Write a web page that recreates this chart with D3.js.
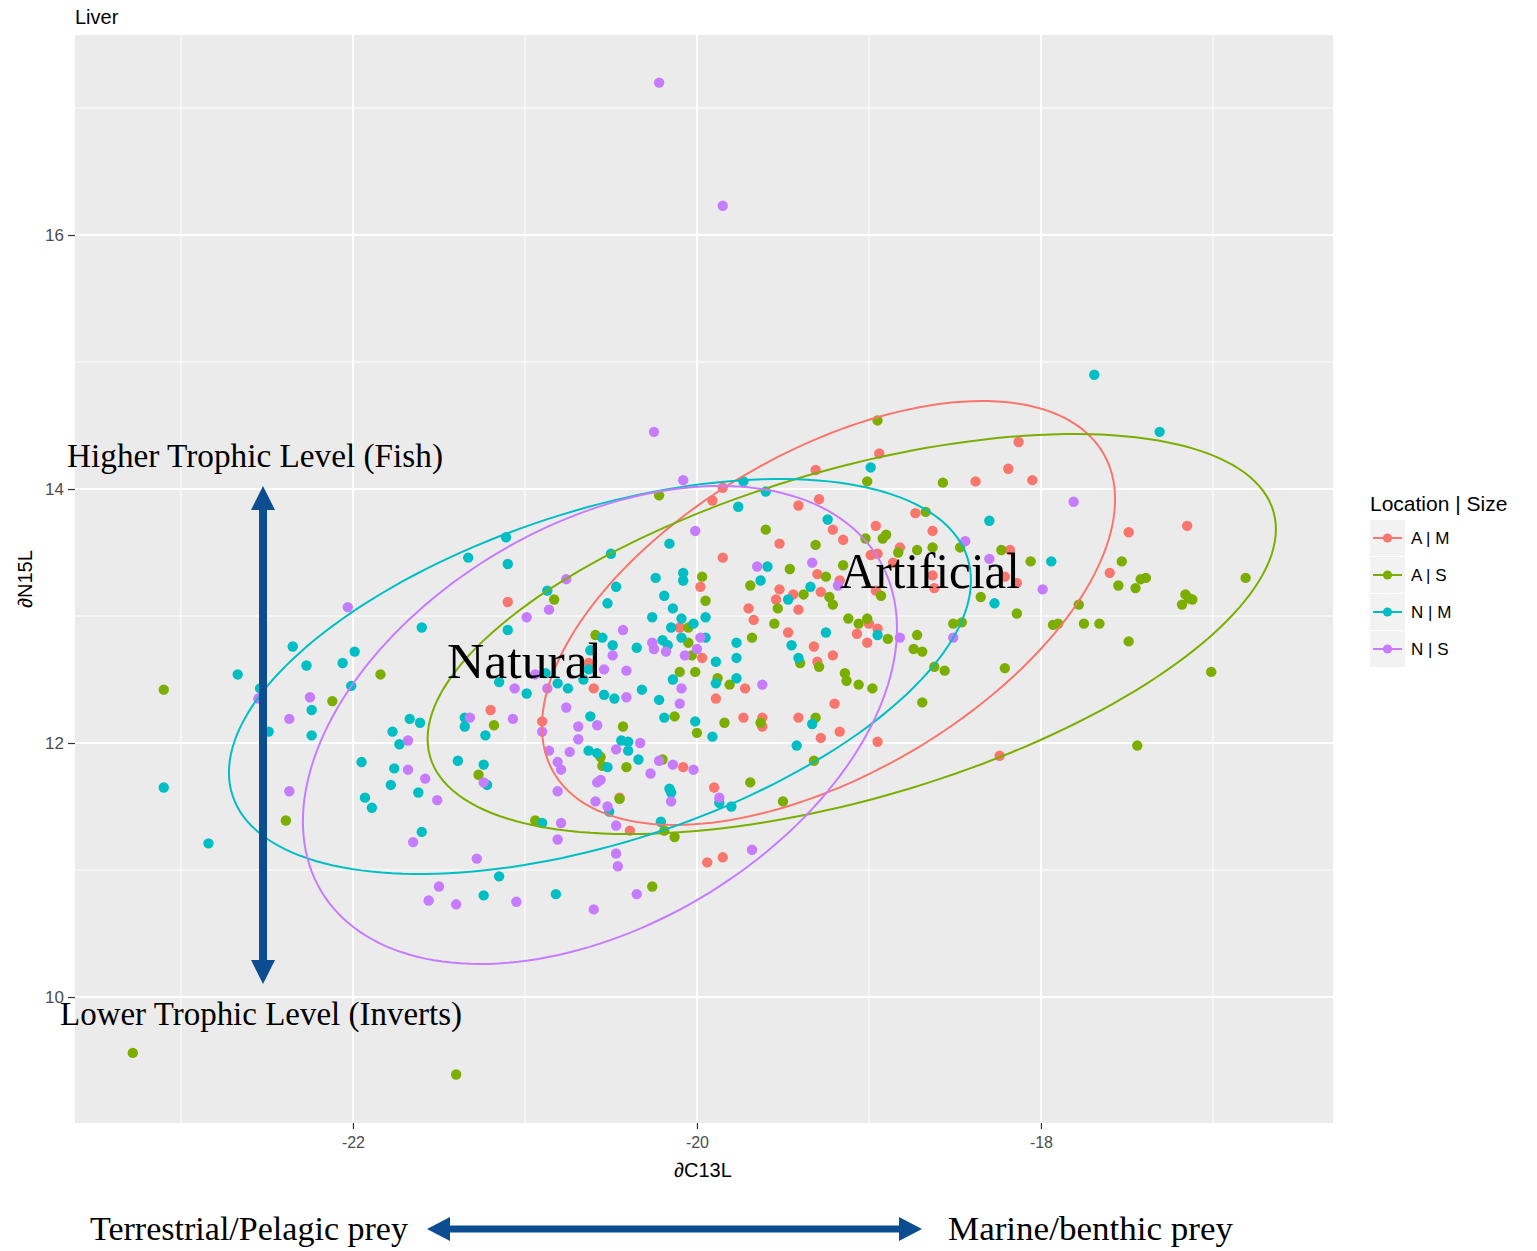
<!DOCTYPE html>
<html><head><meta charset="utf-8">
<script src="https://cdn.jsdelivr.net/npm/d3@7"></script>
<style>body{margin:0;background:#fff} svg{display:block}</style>
</head><body>
<svg id="chart" width="1537" height="1251"></svg>
<script>
// ---------- DATA ----------
const groupLabels = ["A | M", "A | S", "N | M", "N | S"];
const groupColors = ["#F8766D", "#7CAE00", "#00BFC4", "#C77CFF"];

const amX = [-18.94,-21.10,-21.20,-19.85,-19.91,-19.52,-19.85,-19.98,-19.52,-19.44,-19.54,-19.41,-19.28,-19.70,-19.67,-19.47,-19.30,-19.41,-19.29,-19.21,-19.15,-18.99,-19.31,-18.96,-19.07,-20.10,-18.38,-18.05,-18.73,-18.63,-18.82,-18.95,-18.18,-18.86,-19.17,-18.96,-18.63,-18.62,-18.21,-18.14,-19.00,-18.95,-19.01,-19.32,-19.21,-19.30,-18.13,-18.19,-17.15,-17.49,-17.60,-19.97,-20.63,-19.72,-19.89,-20.90,-19.73,-19.62,-19.62,-19.41,-19.20,-19.28,-19.17,-18.95,-20.60,-20.08,-19.90,-20.45,-20.39,-19.94,-19.85,-18.24];
const amY = [14.28,13.11,12.26,14.01,13.91,13.57,13.46,13.23,13.21,13.17,13.13,13.05,13.19,13.06,12.97,12.87,13.33,13.87,13.92,13.68,13.60,13.48,14.15,13.71,12.86,12.91,14.06,14.07,13.81,13.67,13.54,13.49,13.52,13.42,13.28,13.20,13.32,13.22,13.31,13.26,12.94,12.90,12.79,12.76,12.69,12.64,14.37,14.16,13.71,13.66,13.34,12.67,12.63,12.43,12.35,12.17,12.20,12.20,12.13,12.20,12.31,12.04,12.09,12.01,12.43,11.81,11.65,11.57,11.31,11.06,11.10,11.90];

const asX = [-18.95,-16.81,-17.01,-17.44,-23.28,-21.40,-23.10,-21.84,-22.12,-22.39,-21.18,-21.27,-20.26,-20.59,-20.05,-20.03,-19.68,-19.40,-19.29,-19.14,-19.13,-19.06,-18.98,-20.10,-20.01,-19.88,-19.81,-20.43,-20.13,-20.00,-19.84,-19.63,-19.31,-19.32,-19.50,-20.56,-20.55,-20.41,-20.20,-19.69,-20.45,-20.94,-20.19,-20.13,-20.22,-19.60,-20.83,-19.97,-19.95,-19.69,-19.46,-19.53,-19.38,-19.23,-19.21,-19.55,-19.25,-19.31,-19.02,-19.15,-19.01,-19.12,-19.06,-19.01,-20.05,-18.57,-18.67,-18.92,-18.90,-18.83,-18.72,-18.63,-18.47,-18.23,-18.06,-18.93,-18.35,-18.14,-18.89,-18.51,-18.46,-18.72,-18.74,-18.69,-18.62,-18.56,-18.21,-17.53,-17.55,-17.42,-17.39,-17.45,-17.16,-17.12,-17.18,-17.14,-17.78,-17.93,-17.90,-17.75,-17.66,-17.49,-18.69];
const asY = [14.54,13.30,12.56,11.98,9.56,9.39,12.42,12.54,12.33,11.39,12.14,11.75,10.87,12.85,12.79,12.69,12.83,12.63,12.60,12.55,12.49,12.46,12.43,12.56,12.56,12.51,12.46,12.13,12.21,12.08,12.16,12.16,12.20,11.86,11.54,11.89,11.82,11.81,11.87,11.69,11.56,11.39,11.31,11.26,13.95,13.68,13.13,13.31,13.12,13.24,13.37,13.06,13.17,13.15,13.09,12.94,13.31,13.56,13.61,13.40,14.06,12.98,12.94,12.98,12.91,14.05,13.82,13.61,13.64,13.50,13.52,13.54,13.54,13.52,13.43,13.16,13.15,13.02,12.82,12.94,12.95,12.85,12.74,12.72,12.60,12.57,12.59,13.43,13.24,13.29,13.30,13.22,13.17,13.13,13.09,13.14,13.09,12.93,12.94,12.94,12.94,12.80,12.32];

const nmX = [-17.69,-17.31,-23.10,-22.84,-21.33,-21.11,-21.10,-21.60,-21.10,-22.67,-22.35,-21.99,-22.27,-22.06,-22.01,-22.54,-22.24,-22.49,-22.24,-21.77,-21.67,-21.61,-21.73,-21.35,-21.35,-21.23,-21.15,-21.95,-21.76,-21.78,-21.62,-21.39,-21.24,-21.22,-21.93,-21.89,-21.60,-21.15,-21.24,-20.82,-20.55,-20.49,-20.35,-20.20,-20.17,-20.09,-19.95,-19.77,-19.77,-19.89,-19.45,-19.25,-18.95,-19.41,-20.62,-20.63,-20.66,-20.81,-20.75,-20.88,-20.99,-20.54,-20.48,-20.32,-20.22,-20.14,-19.89,-19.77,-20.62,-20.19,-20.01,-19.91,-19.33,-19.42,-20.44,-20.40,-20.40,-20.63,-20.58,-20.52,-20.34,-20.16,-20.15,-19.87,-19.80,-20.51,-20.90,-20.21,-19.73,-19.60,-19.76,-20.16,-20.50,-20.87,-20.47,-20.52,-20.24,-20.08,-20.08,-20.19,-20.14,-20.26,-20.09,-20.02,-19.95,-19.63,-19.59,-19.47,-19.34,-19.24,-18.99,-20.15,-18.30,-18.27,-17.94];
const nmY = [14.90,14.45,11.65,11.21,13.46,13.62,13.41,12.91,12.89,12.54,12.76,12.72,12.61,12.63,12.45,12.43,12.26,12.09,12.06,12.09,12.19,12.16,11.99,12.20,12.13,12.06,12.48,11.85,11.80,11.67,11.61,11.86,11.83,11.67,11.57,11.49,11.30,10.95,10.80,10.81,12.83,12.77,12.75,12.81,12.77,12.83,12.83,12.79,12.67,12.64,12.77,12.87,12.85,12.67,12.73,12.58,12.50,12.47,12.43,12.55,12.39,12.38,12.35,12.42,12.34,12.50,12.47,12.51,12.21,12.20,12.17,12.05,12.15,11.98,12.02,12.01,11.94,11.94,11.92,11.81,11.87,11.64,11.61,11.53,11.50,11.46,11.37,11.38,14.06,13.98,13.86,13.57,13.49,13.20,13.23,13.10,13.30,13.28,13.34,13.16,13.06,12.99,12.98,12.94,12.99,13.28,13.39,13.13,13.23,13.76,14.17,12.91,13.75,13.10,13.43];

const nsX = [-20.22,-19.85,-20.25,-22.03,-22.55,-22.25,-22.37,-21.32,-21.68,-21.68,-21.58,-21.51,-21.24,-22.37,-21.65,-21.28,-21.50,-21.56,-21.40,-21.05,-20.47,-20.46,-19.68,-20.60,-20.35,-20.43,-20.26,-20.25,-20.18,-19.98,-20.00,-20.07,-20.49,-20.54,-20.41,-20.94,-20.87,-21.06,-20.41,-20.09,-20.10,-19.62,-20.76,-21.07,-20.90,-20.58,-20.69,-20.69,-20.86,-20.74,-20.47,-20.33,-20.22,-20.14,-20.02,-20.27,-20.81,-20.79,-20.58,-20.56,-20.81,-19.87,-20.15,-20.59,-20.52,-20.79,-20.81,-20.47,-20.08,-20.01,-20.76,-20.86,-20.99,-19.65,-19.33,-19.18,-18.44,-18.30,-18.82,-18.51,-17.81,-17.99];
const nsY = [17.20,16.23,14.45,13.07,12.35,12.36,12.19,12.20,12.02,11.79,11.72,11.55,11.69,11.62,11.22,11.09,10.87,10.76,10.73,10.75,11.13,11.03,11.16,10.69,10.81,12.89,12.79,12.74,12.72,12.83,12.74,12.69,12.69,12.58,12.57,12.54,12.43,12.43,12.36,12.43,12.31,12.46,12.28,12.19,12.09,12.14,12.13,12.03,11.94,11.93,11.95,12.00,11.86,11.83,11.79,11.76,11.85,11.79,11.69,11.71,11.62,11.57,11.54,11.54,11.50,11.37,11.24,11.35,14.07,13.67,13.29,13.05,12.99,13.39,13.42,13.24,13.59,13.45,12.83,12.83,13.90,13.21];

// Ellipse descriptions (centre, x/y radius, correlation)
const ellipseCx  = [-19.235, -19.100, -20.564, -20.564];
const ellipseCy  = [13.024, 12.858, 12.524, 12.142];
const ellipseRx  = [1.666, 2.466, 2.157, 1.727];
const ellipseRy  = [1.669, 1.575, 1.555, 1.882];
const ellipseRho = [0.536, 0.524, 0.486, 0.404];

const xMajor = [-22, -20, -18];
const xMinor = [-23, -21, -19, -17];
const yMajor = [10, 12, 14, 16];
const yMinor = [11, 13, 15, 17];
const xDomain = [-23.616, -16.302];
const yDomain = [9.008, 17.575];

// ---------- DRAW ----------
const svg = d3.select("#chart");
const P = {l: 75, r: 1333, t: 35, b: 1123};
const x = d3.scaleLinear().domain(xDomain).range([P.l, P.r]);
const y = d3.scaleLinear().domain(yDomain).range([P.b, P.t]);
const SANS = "'Liberation Sans', Arial, Helvetica, sans-serif";
const SERIF = "'Liberation Serif', 'Times New Roman', serif";

svg.append("rect").attr("width", 1537).attr("height", 1251).attr("fill", "#fff");
svg.append("rect").attr("x", P.l).attr("y", P.t).attr("width", P.r - P.l).attr("height", P.b - P.t).attr("fill", "#EBEBEB");

const grid = svg.append("g");
grid.selectAll(".vmin").data(xMinor).join("line")
  .attr("x1", d => x(d)).attr("x2", d => x(d)).attr("y1", P.t).attr("y2", P.b)
  .attr("stroke", "#fff").attr("stroke-width", 1);
grid.selectAll(".hmin").data(yMinor).join("line")
  .attr("y1", d => y(d)).attr("y2", d => y(d)).attr("x1", P.l).attr("x2", P.r)
  .attr("stroke", "#fff").attr("stroke-width", 1);
grid.selectAll(".vmaj").data(xMajor).join("line")
  .attr("x1", d => x(d)).attr("x2", d => x(d)).attr("y1", P.t).attr("y2", P.b)
  .attr("stroke", "#fff").attr("stroke-width", 2);
grid.selectAll(".hmaj").data(yMajor).join("line")
  .attr("y1", d => y(d)).attr("y2", d => y(d)).attr("x1", P.l).attr("x2", P.r)
  .attr("stroke", "#fff").attr("stroke-width", 2);

// axes
const xAxis = svg.append("g").attr("transform", `translate(0,${P.b})`)
  .call(d3.axisBottom(x).tickValues(xMajor).tickSize(6).tickPadding(8).tickFormat(d3.format("d")));
const yAxis = svg.append("g").attr("transform", `translate(${P.l},0)`)
  .call(d3.axisLeft(y).tickValues(yMajor).tickSize(7).tickPadding(4).tickFormat(d3.format("d")));
[xAxis, yAxis].forEach(a => {
  a.select(".domain").remove();
  a.selectAll(".tick line").attr("stroke", "#333").attr("stroke-width", 1.2);
  a.selectAll(".tick text").attr("fill", "#4D4D4D").style("font-family", SANS).style("font-size", "16px");
});
xAxis.selectAll(".tick text").text(d => d < 0 ? "-" + Math.abs(d) : d);
yAxis.selectAll(".tick text").style("font-size", "17px");

// points
const series = [[amX, amY], [asX, asY], [nmX, nmY], [nsX, nsY]];
series.forEach((s, gi) => {
  const pts = s[0].map((v, i) => ({x: v, y: s[1][i]}));
  svg.append("g").selectAll("circle").data(pts).join("circle")
    .attr("cx", d => x(d.x)).attr("cy", d => y(d.y)).attr("r", 5.2)
    .attr("fill", groupColors[gi]);
});

// ellipses
const tSteps = d3.range(0, 2 * Math.PI, Math.PI / 90);
groupLabels.forEach((g, i) => {
  const k = Math.sqrt(1 - ellipseRho[i] * ellipseRho[i]);
  const pts = tSteps.map(t => [
    ellipseCx[i] + ellipseRx[i] * Math.cos(t),
    ellipseCy[i] + ellipseRy[i] * (ellipseRho[i] * Math.cos(t) + k * Math.sin(t))
  ]);
  svg.append("path").datum(pts)
    .attr("d", d3.line().x(d => x(d[0])).y(d => y(d[1])).curve(d3.curveLinearClosed))
    .attr("fill", "none").attr("stroke", groupColors[i]).attr("stroke-width", 2);
});

// titles
svg.append("text").attr("x", 75).attr("y", 24).text("Liver")
  .style("font-family", SANS).style("font-size", "20px").attr("fill", "#000");
svg.append("text").attr("x", 703).attr("y", 1177).attr("text-anchor", "middle").text("∂C13L")
  .style("font-family", SANS).style("font-size", "20px").attr("fill", "#000");
svg.append("text").attr("transform", "translate(32,579) rotate(-90)").attr("text-anchor", "middle").text("∂N15L")
  .style("font-family", SANS).style("font-size", "20px").attr("fill", "#000");

// legend
const lg = svg.append("g");
lg.append("text").attr("x", 1370).attr("y", 511).text("Location | Size")
  .style("font-family", SANS).style("font-size", "21px").attr("fill", "#000");
groupLabels.forEach((g, i) => {
  const cy = 538 + i * 37;
  lg.append("rect").attr("x", 1370).attr("y", cy - 18).attr("width", 35).attr("height", 36).attr("fill", "#F2F2F2");
  lg.append("line").attr("x1", 1373).attr("x2", 1402).attr("y1", cy).attr("y2", cy)
    .attr("stroke", groupColors[i]).attr("stroke-width", 2);
  lg.append("circle").attr("cx", 1387.5).attr("cy", cy).attr("r", 4.6).attr("fill", groupColors[i]);
  lg.append("text").attr("x", 1411).attr("y", cy + 6).text(g)
    .style("font-family", SANS).style("font-size", "17px").attr("fill", "#000");
});

// annotations (slide overlay)
const ann = svg.append("g").style("font-family", SERIF).attr("fill", "#000");
function annText(txt, x0, yb, size, w) {
  ann.append("text").attr("x", x0).attr("y", yb).text(txt)
    .style("font-size", size + "px").attr("textLength", w).attr("lengthAdjust", "spacingAndGlyphs");
}
annText("Higher Trophic Level (Fish)", 67, 467, 33, 376);
annText("Lower Trophic Level (Inverts)", 60, 1025, 33, 402);
annText("Natural", 447, 678, 50, 155);
annText("Artificial", 840, 588, 50, 180);
annText("Terrestrial/Pelagic prey", 90, 1240, 33, 318);
annText("Marine/benthic prey", 948, 1240, 33, 285);

const AC = "#0B4D90";
svg.append("rect").attr("x", 259).attr("y", 505).attr("width", 8).attr("height", 458).attr("fill", AC);
svg.append("path").attr("d", "M263,486 L251,510 L275,510 Z").attr("fill", AC);
svg.append("path").attr("d", "M263,984 L251,960 L275,960 Z").attr("fill", AC);
svg.append("rect").attr("x", 446).attr("y", 1225.5).attr("width", 456).attr("height", 7).attr("fill", AC);
svg.append("path").attr("d", "M427,1229 L450,1217 L450,1241 Z").attr("fill", AC);
svg.append("path").attr("d", "M922,1229 L899,1217 L899,1241 Z").attr("fill", AC);
</script>
</body></html>
